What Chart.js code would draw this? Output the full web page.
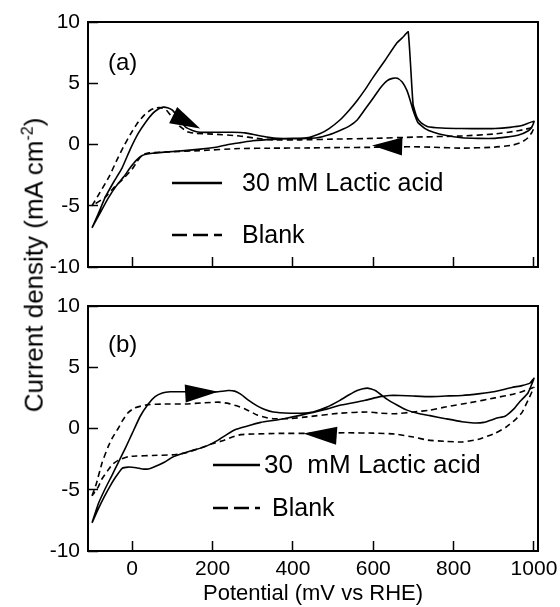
<!DOCTYPE html>
<html>
<head>
<meta charset="utf-8">
<script src="https://cdn.jsdelivr.net/npm/chart.js@4.4.1/dist/chart.umd.min.js"></script>
<style>
  body { margin: 0; background: #fff; font-family: Arial, "Liberation Sans", sans-serif; }
  #page { position: relative; width: 560px; height: 607px; overflow: hidden; }
  #wrapA { position: absolute; left: 0; top: 0; }
  #wrapB { position: absolute; left: 0; top: 284px; }
  #ytitle {
    position: absolute; left: 33px; top: 265px; white-space: nowrap;
    font-size: 26px; color: #000; line-height: 1;
    transform: translate(-50%, -50%) rotate(-90deg);
  }
  #ytitle sup { font-size: 16px; }
</style>
</head>
<body>
<div id="page">
  <div id="wrapA"><canvas id="chartA" width="560" height="290"></canvas></div>
  <div id="wrapB"><canvas id="chartB" width="560" height="323"></canvas></div>
  <div id="ytitle">Current density (mA cm<sup>-2</sup>)</div>
</div>
<script>
const xTicks = [0, 200, 400, 600, 800, 1000];
const yTicks = [-10, -5, 0, 5, 10];

// (a) 30 mM lactic acid, one cycle: forward scan then reverse scan
const lacticA_mV = [-100, -85, -67, -45, -25, -5, 15, 33, 50, 65, 77, 88, 100, 115, 132, 150, 169, 214, 250, 281, 311, 340, 361, 400, 435, 468, 490, 517, 540, 560, 580, 600, 630, 659, 675, 687, 699, 709, 720, 736, 770, 820, 870, 903, 940, 970, 1000,
  995, 985, 960, 930, 903, 860, 820, 779, 750, 729, 711, 699, 692, 684, 672, 660, 648, 634, 617, 600, 580, 560, 540, 517, 490, 460, 420, 393, 350, 300, 270, 240, 212, 170, 130, 90, 50, 25, 10, -5, -20, -40, -60, -80, -100];
const lacticA_mA = [-6.8, -5.7, -4.3, -3.0, -1.9, -0.4, 0.9, 1.8, 2.5, 2.9, 3.05, 3.0, 2.8, 2.2, 1.45, 1.15, 1.0, 1.0, 1.0, 0.95, 0.75, 0.58, 0.5, 0.5, 0.55, 0.9, 1.3, 2.0, 2.8, 3.6, 4.5, 5.5, 6.9, 8.3, 8.8, 9.2, 3.3, 2.2, 1.75, 1.45, 1.35, 1.3, 1.3, 1.3, 1.4, 1.55, 1.9,
  1.45, 1.1, 0.75, 0.6, 0.5, 0.5, 0.55, 0.75, 1.0, 1.3, 1.8, 2.8, 3.6, 4.4, 5.1, 5.4, 5.4, 5.2, 4.6, 3.8, 2.9, 2.0, 1.5, 1.15, 0.8, 0.55, 0.48, 0.47, 0.42, 0.3, 0.15, 0.0, -0.2, -0.38, -0.5, -0.6, -0.72, -0.9, -1.3, -1.9, -2.6, -3.4, -4.4, -5.6, -6.8];

// (a) blank
const blankA_mV = [-100, -80, -57, -40, -22, -5, 12, 30, 45, 60, 72, 85, 100, 118, 137, 160, 200, 267, 310, 350, 420, 517, 600, 700, 822, 900, 947, 980, 1000,
  995, 985, 970, 947, 900, 822, 750, 697, 667, 600, 517, 430, 350, 267, 167, 90, 42, 25, 12, 0, -25, -45, -67, -100];
const blankA_mA = [-5.0, -3.9, -2.6, -1.4, -0.2, 0.8, 1.7, 2.4, 2.8, 3.0, 3.0, 2.8, 2.2, 1.5, 1.05, 0.9, 0.85, 0.7, 0.5, 0.38, 0.38, 0.45, 0.5, 0.6, 0.7, 0.85, 1.05, 1.25, 1.4,
  1.0, 0.55, 0.2, -0.05, -0.22, -0.3, -0.22, -0.18, -0.2, -0.23, -0.25, -0.28, -0.3, -0.33, -0.5, -0.6, -0.68, -0.85, -1.4, -2.0, -2.9, -3.5, -4.3, -5.0];

// (b) 30 mM lactic acid
const lacticB_mV = [-100, -85, -67, -50, -35, -17, 0, 20, 40, 57, 75, 95, 115, 150, 180, 214, 239, 255, 270, 290, 311, 330, 351, 393, 420, 450, 485, 517, 540, 560, 585, 605, 634, 660, 684, 710, 741, 780, 821, 850, 875, 908, 928, 950, 965, 985, 1000,
  990, 970, 945, 900, 866, 821, 780, 741, 700, 667, 640, 617, 580, 550, 517, 480, 435, 400, 360, 320, 281, 256, 235, 214, 180, 149, 125, 100, 80, 57, 40, 25, 10, -10, -25, -42, -55, -70, -85, -100];
const lacticB_mA = [-7.7, -6.2, -4.9, -3.8, -2.8, -1.6, -0.4, 1.0, 2.0, 2.6, 2.9, 3.0, 3.0, 3.0, 2.95, 3.0, 3.1, 3.05, 2.8, 2.3, 1.85, 1.55, 1.35, 1.25, 1.25, 1.35, 1.75, 2.3, 2.75, 3.1, 3.3, 3.1, 2.4, 1.9, 1.5, 1.25, 1.05, 0.8, 0.55, 0.45, 0.5, 0.85, 1.0, 1.6, 2.2, 2.9, 4.1,
  3.7, 3.5, 3.35, 3.0, 2.85, 2.7, 2.65, 2.6, 2.65, 2.7, 2.7, 2.6, 2.3, 2.1, 1.9, 1.55, 1.2, 0.95, 0.7, 0.5, 0.15, -0.1, -0.5, -0.95, -1.5, -1.8, -2.05, -2.35, -2.75, -3.1, -3.3, -3.3, -3.2, -3.15, -3.25, -4.0, -4.7, -5.6, -6.6, -7.7];

// (b) blank
const blankB_mV = [-100, -90, -75, -60, -50, -35, -25, -10, 7, 40, 80, 132, 180, 214, 239, 260, 281, 311, 335, 351, 390, 435, 517, 585, 620, 654, 700, 741, 779, 840, 903, 948, 970, 995, 1000,
  995, 985, 970, 953, 930, 903, 860, 821, 780, 736, 700, 654, 600, 535, 450, 368, 300, 270, 249, 225, 199, 165, 132, 100, 50, 10, -10, -35, -50, -60, -75, -85, -100];
const blankB_mA = [-5.5, -4.6, -2.8, -1.5, -0.8, 0.0, 0.6, 1.3, 1.7, 1.95, 2.0, 2.0, 2.1, 2.15, 2.05, 1.85, 1.6, 1.1, 0.88, 0.8, 0.8, 0.95, 1.25, 1.35, 1.25, 1.2, 1.35, 1.5, 1.75, 2.1, 2.5, 2.8, 3.0, 3.3, 3.35,
  3.0, 2.3, 1.3, 0.7, 0.1, -0.4, -0.9, -1.1, -1.05, -0.95, -0.7, -0.45, -0.38, -0.35, -0.4, -0.4, -0.45, -0.5, -0.7, -1.0, -1.25, -1.65, -2.0, -2.15, -2.2, -2.25, -2.3, -2.6, -2.95, -3.4, -4.1, -4.8, -5.5];

// scan direction arrows: [tail mV, tail mA, tip mV, tip mA]
const arrowsA = [[102, 2.4, 169, 1.3], [672, -0.16, 597, -0.08]];
const arrowsB = [[132, 2.85, 214, 3.0], [509, -0.6, 426, -0.4]];

const seriesNames = ['30 mM Lactic acid', 'Blank'];

function pts(xs, ys) {
  return xs.map((x, i) => ({ x, y: ys[i] }));
}

// no label overhang padding, the layout padding places the plot box
function noPad(s) {
  s.paddingTop = 0; s.paddingBottom = 0; s.paddingLeft = 0; s.paddingRight = 0;
}

const framePlugin = {
  id: 'frame',
  afterDraw(chart) {
    const { ctx, chartArea: a } = chart;
    ctx.save();
    ctx.strokeStyle = '#000';
    ctx.lineWidth = 2;
    ctx.strokeRect(a.left, a.top, a.right - a.left, a.bottom - a.top);
    ctx.restore();
  }
};

const arrowPlugin = {
  id: 'scanArrows',
  afterDatasetsDraw(chart, args, opts) {
    const { ctx, scales } = chart;
    ctx.save();
    ctx.fillStyle = '#000';
    (opts.list || []).forEach(([x0, y0, x1, y1]) => {
      const bx = scales.x.getPixelForValue(x0), by = scales.y.getPixelForValue(y0);
      const tx = scales.x.getPixelForValue(x1), ty = scales.y.getPixelForValue(y1);
      const len = Math.hypot(tx - bx, ty - by);
      const nx = -(ty - by) / len * 9, ny = (tx - bx) / len * 9;
      ctx.beginPath();
      ctx.moveTo(tx, ty);
      ctx.lineTo(bx + nx, by + ny);
      ctx.lineTo(bx - nx, by - ny);
      ctx.closePath();
      ctx.fill();
    });
    ctx.restore();
  }
};

// legend and panel letter, placed in canvas pixels
const notePlugin = {
  id: 'notes',
  afterDraw(chart, args, o) {
    const ctx = chart.ctx;
    ctx.save();
    ctx.fillStyle = '#000';
    ctx.strokeStyle = '#000';
    ctx.textBaseline = 'middle';
    ctx.font = '24px Arial, "Liberation Sans", sans-serif';
    ctx.fillText(o.letter, 108, o.letterY);
    ctx.lineWidth = 2.5;
    ctx.beginPath();
    ctx.moveTo(o.x0, o.y1); ctx.lineTo(o.x1, o.y1);
    ctx.stroke();
    ctx.setLineDash([15, 6]);
    ctx.beginPath();
    ctx.moveTo(o.x0, o.y2); ctx.lineTo(o.x1, o.y2);
    ctx.stroke();
    ctx.setLineDash([]);
    ctx.font = o.size1 + 'px Arial, "Liberation Sans", sans-serif';
    ctx.fillText(o.text1, o.tx1, o.y1 + 1);
    ctx.font = o.size2 + 'px Arial, "Liberation Sans", sans-serif';
    ctx.fillText(seriesNames[1], o.tx2, o.y2 + 1);
    ctx.restore();
  }
};

function makeChart(id, lmV, lmA, bmV, bmA, arrows, notes, bottom) {
  const ctx = document.getElementById(id).getContext('2d');
  return new Chart(ctx, {
    type: 'scatter',
    data: {
      datasets: [
        { label: seriesNames[0], data: pts(lmV, lmA), showLine: true, borderColor: '#000', borderWidth: 1.6, pointRadius: 0, tension: 0.15 },
        { label: seriesNames[1], data: pts(bmV, bmA), showLine: true, borderColor: '#000', borderWidth: 1.6, borderDash: [6, 4], pointRadius: 0, tension: 0.15 }
      ]
    },
    options: {
      responsive: false,
      animation: false,
      layout: { padding: { left: 0, right: 22, top: 22, bottom: 0 } },
      plugins: {
        legend: { display: false },
        tooltip: { enabled: false },
        scanArrows: { list: arrows },
        notes: notes
      },
      scales: {
        x: {
          type: 'linear', min: -110, max: 1010,
          afterBuildTicks: s => { s.ticks = xTicks.map(v => ({ value: v })); },
          afterFit: s => { s.height = bottom.height; noPad(s); },
          border: { display: false },
          grid: { drawOnChartArea: false, tickLength: -10, tickWidth: 1.5, tickColor: '#000' },
          ticks: { display: bottom.labels, autoSkip: false, maxRotation: 0, color: '#000', padding: 16, callback: v => String(v), font: { size: 21, family: 'Arial, "Liberation Sans", sans-serif' } },
          title: { display: bottom.labels, text: 'Potential (mV vs RHE)', color: '#000', padding: 0, font: { size: 22, family: 'Arial, "Liberation Sans", sans-serif' } }
        },
        y: {
          min: -10, max: 10,
          afterBuildTicks: s => { s.ticks = yTicks.map(v => ({ value: v })); },
          afterFit: s => { s.width = 88; noPad(s); },
          border: { display: false },
          grid: { drawOnChartArea: false, tickLength: -10, tickWidth: 1.5, tickColor: '#000' },
          ticks: { color: '#000', padding: 18, callback: v => String(v), font: { size: 21, family: 'Arial, "Liberation Sans", sans-serif' } }
        }
      }
    },
    plugins: [framePlugin, arrowPlugin, notePlugin]
  });
}

makeChart('chartA', lacticA_mV, lacticA_mA, blankA_mV, blankA_mA, arrowsA,
  { letter: '(a)', letterY: 63, x0: 172, x1: 222, y1: 183, y2: 235, tx1: 242, tx2: 242, size1: 25, size2: 25, text1: seriesNames[0] },
  { height: 23, labels: false });
makeChart('chartB', lacticB_mV, lacticB_mA, blankB_mV, blankB_mA, arrowsB,
  { letter: '(b)', letterY: 61, x0: 213, x1: 260, y1: 181, y2: 224, tx1: 264, tx2: 272, size1: 26, size2: 25, text1: seriesNames[0].replace(' ', '  ') },
  { height: 56, labels: true });
</script>
</body>
</html>
